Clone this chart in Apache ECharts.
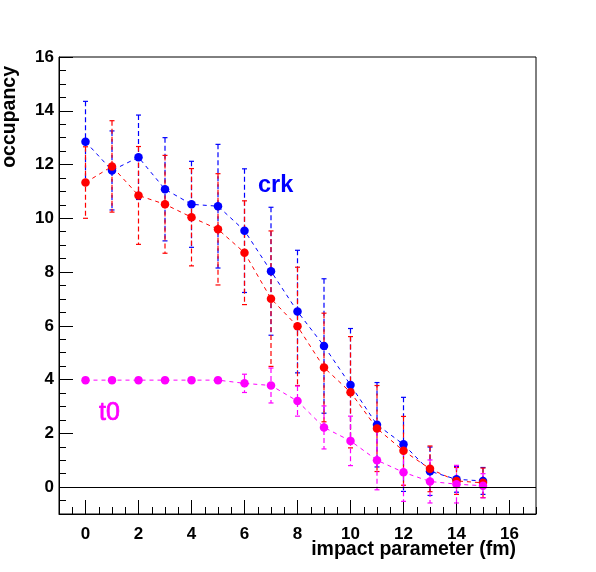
<!DOCTYPE html>
<html>
<head>
<meta charset="utf-8">
<script src="https://cdn.jsdelivr.net/npm/echarts@6/dist/echarts.min.js"></script>
<style>html,body{margin:0;padding:0;background:#fff}#c{width:596px;height:572px}</style>
</head>
<body>
<div id="c"></div>
<script>
var impact = [0, 1, 2, 3, 4, 5, 6, 7, 8, 9, 10, 11, 12, 13, 14, 15];
var crk    = [12.85, 11.78, 12.27, 11.08, 10.52, 10.45, 9.54, 8.03, 6.53, 5.25, 3.80, 2.32, 1.59, 0.59, 0.29, 0.23];
var crkErr = [1.50, 1.47, 1.57, 1.92, 1.60, 2.30, 2.30, 2.38, 2.28, 2.50, 2.10, 1.57, 1.75, 0.90, 0.48, 0.50];
var red    = [11.33, 11.93, 10.85, 10.52, 10.04, 9.59, 8.72, 7.01, 5.98, 4.45, 3.53, 2.18, 1.35, 0.68, 0.23, 0.16];
var redErr = [1.33, 1.70, 1.82, 1.82, 1.81, 2.07, 1.93, 2.52, 2.20, 2.02, 2.07, 1.60, 1.28, 0.85, 0.50, 0.55];
var t0     = [3.98, 3.98, 3.98, 3.98, 3.98, 3.98, 3.86, 3.78, 3.20, 2.22, 1.72, 1.00, 0.55, 0.21, 0.11, 0.05];
var t0Err  = [0, 0, 0, 0, 0, 0, 0.34, 0.65, 0.56, 0.80, 0.92, 1.10, 1.08, 0.80, 0.70, 0.45];
var xMajorTicks = [0, 2, 4, 6, 8, 10, 12, 14, 16];
var yMajorTicks = [0, 2, 4, 6, 8, 10, 12, 14, 16];

var FONT = "'Liberation Sans', Arial, Helvetica, sans-serif";
var BLUE = '#0000ff', RED = '#ff0000', MAG = '#ff00ff';

function pairs(vals) { return impact.map(function (x, i) { return [x, vals[i]]; }); }
function errData(vals, errs) { return impact.map(function (x, i) { return [x, vals[i], errs[i]]; }); }

function errorSeries(vals, errs, color) {
  return {
    type: 'custom',
    xAxisIndex: 0, yAxisIndex: 0,
    silent: true,
    z: 2,
    data: errData(vals, errs),
    renderItem: function (params, api) {
      var x = api.value(0), v = api.value(1), e = api.value(2);
      if (!e) return null;
      var top = api.coord([x, v + e]);
      var bot = api.coord([x, v - e]);
      var hw = 2.5;
      var st = { stroke: color, lineWidth: 1.2, lineDash: [5, 3] };
      var cs = { stroke: color, lineWidth: 1.2 };
      return {
        type: 'group',
        children: [
          { type: 'line', shape: { x1: top[0], y1: top[1], x2: bot[0], y2: bot[1] }, style: st },
          { type: 'line', shape: { x1: top[0] - hw, y1: top[1], x2: top[0] + hw, y2: top[1] }, style: cs },
          { type: 'line', shape: { x1: bot[0] - hw, y1: bot[1], x2: bot[0] + hw, y2: bot[1] }, style: cs }
        ]
      };
    }
  };
}

function lineSeries(name, vals, color) {
  return {
    name: name,
    type: 'line',
    xAxisIndex: 0, yAxisIndex: 0,
    z: 3,
    data: pairs(vals),
    symbol: 'circle',
    symbolSize: 8.5,
    showSymbol: true,
    itemStyle: { color: color },
    lineStyle: { color: color, width: 1, type: [4, 4] }
  };
}

var chart = echarts.init(document.getElementById('c'));
chart.setOption({
  animation: false,
  backgroundColor: '#fff',
  grid: { left: 59, right: 60, top: 57, bottom: 58, show: true, borderColor: '#000', borderWidth: 1, backgroundColor: 'transparent' },
  xAxis: [
    {
      type: 'value', min: -1, max: 17, interval: 0.5, position: 'bottom',
      axisLine: { show: true, onZero: false, lineStyle: { color: '#000', width: 1 } },
      axisTick: { show: true, inside: true, length: 7, lineStyle: { color: '#000', width: 1 } },
      axisLabel: { customValues: xMajorTicks, color: '#000', fontWeight: 'bold', fontSize: 17, fontFamily: FONT, margin: 12 },
      splitLine: { show: false }
    },
    {
      type: 'value', min: -1, max: 17, interval: 0.5, position: 'bottom',
      axisLine: { show: false, onZero: false },
      axisTick: { show: true, inside: true, length: 14, customValues: xMajorTicks, lineStyle: { color: '#000', width: 1 } },
      axisLabel: { show: false },
      splitLine: { show: false }
    }
  ],
  yAxis: [
    {
      type: 'value', min: -1, max: 16, interval: 0.5, position: 'left',
      axisLine: { show: true, onZero: false, lineStyle: { color: '#000', width: 1 } },
      axisTick: { show: true, inside: true, length: 7, lineStyle: { color: '#000', width: 1 } },
      axisLabel: { customValues: yMajorTicks, color: '#000', fontWeight: 'bold', fontSize: 17, fontFamily: FONT, margin: 5 },
      splitLine: { show: false }
    },
    {
      type: 'value', min: -1, max: 16, interval: 0.5, position: 'left',
      axisLine: { show: false, onZero: false },
      axisTick: { show: true, inside: true, length: 14, customValues: yMajorTicks, lineStyle: { color: '#000', width: 1 } },
      axisLabel: { show: false },
      splitLine: { show: false }
    }
  ],
  series: [
    {
      type: 'line', xAxisIndex: 0, yAxisIndex: 0, data: [], silent: true, z: 1,
      markLine: {
        silent: true, symbol: ['none', 'none'], animation: false,
        label: { show: false },
        lineStyle: { color: '#000', type: 'solid', width: 1 },
        data: [{ yAxis: 0 }]
      }
    },
    errorSeries(crk, crkErr, BLUE),
    lineSeries('crk', crk, BLUE),
    errorSeries(red, redErr, RED),
    lineSeries('red', red, RED),
    errorSeries(t0, t0Err, MAG),
    lineSeries('t0', t0, MAG)
  ],
  graphic: [
    { type: 'text', x: 10, y: 66, rotation: Math.PI / 2,
      style: { text: 'occupancy', fill: '#000', font: 'bold 19.5px ' + FONT, align: 'right', verticalAlign: 'middle' } },
    { type: 'text', x: 516, y: 550,
      style: { text: 'impact parameter (fm)', fill: '#000', font: 'bold 19.5px ' + FONT, align: 'right', verticalAlign: 'middle' } },
    { type: 'text', x: 258, y: 186,
      style: { text: 'crk', fill: BLUE, font: 'bold 23.5px ' + FONT, align: 'left', verticalAlign: 'middle' } },
    { type: 'text', x: 99, y: 413,
      style: { text: 't0', fill: MAG, stroke: MAG, lineWidth: 0.7, font: '25px ' + FONT, align: 'left', verticalAlign: 'middle' } }
  ]
});
</script>
</body>
</html>
